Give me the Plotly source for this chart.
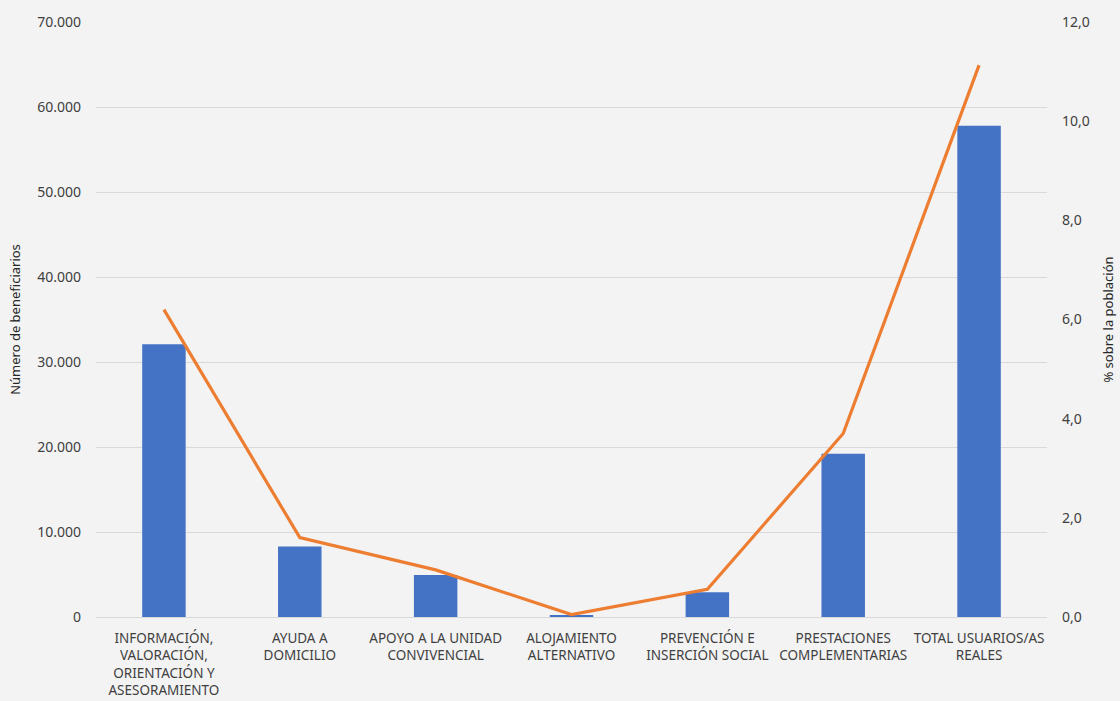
import plotly.graph_objects as go

categories = [
    "INFORMACIÓN,<br>VALORACIÓN,<br>ORIENTACIÓN Y<br>ASESORAMIENTO",
    "AYUDA A<br>DOMICILIO",
    "APOYO A LA UNIDAD<br>CONVIVENCIAL",
    "ALOJAMIENTO<br>ALTERNATIVO",
    "PREVENCIÓN E<br>INSERCIÓN SOCIAL",
    "PRESTACIONES<br>COMPLEMENTARIAS",
    "TOTAL USUARIOS/AS<br>REALES",
]
beneficiarios = [32100, 8300, 4950, 250, 2900, 19200, 57800]
porcentaje = [6.2, 1.6, 0.95, 0.05, 0.56, 3.7, 11.13]

left_ticks = [0, 10000, 20000, 30000, 40000, 50000, 60000, 70000]
right_ticks = [0, 2, 4, 6, 8, 10, 12]

FONT = "Noto Sans"
TEXT = "#404040"

fig = go.Figure()
fig.add_trace(go.Bar(
    x=categories, y=beneficiarios, name="Número de beneficiarios",
    marker=dict(color="#4472c4", line=dict(width=0)),
    width=0.32, yaxis="y",
))
fig.add_trace(go.Scatter(
    x=categories, y=porcentaje, name="% sobre la población",
    mode="lines", line=dict(color="#ed7d31", width=3.2),
    yaxis="y2",
))

fig.update_layout(
    width=1120, height=701,
    margin=dict(l=96, r=73, t=22, b=84),
    paper_bgcolor="#f3f3f3", plot_bgcolor="#f3f3f3",
    separators=",.",
    showlegend=False,
    font=dict(family=FONT, size=13, color=TEXT),
    xaxis=dict(
        tickfont=dict(family=FONT, size=13.5, color=TEXT),
        showgrid=False, showline=False, ticks="",
        tickangle=0, ticklabelstandoff=11, automargin=False,
    ),
    yaxis=dict(
        range=[0, 70000], tickvals=left_ticks, tickformat=",.0f",
        showgrid=True, gridcolor="#d9d9d9", gridwidth=1,
        zeroline=True, zerolinecolor="#d9d9d9", zerolinewidth=1,
        tickfont=dict(family=FONT, size=14, color=TEXT),
        ticks="", ticklabelstandoff=14, automargin=False,
        title=dict(text="Número de beneficiarios", standoff=13,
                   font=dict(family="Liberation Sans Narrow, " + FONT, size=13, color="#262626")),
    ),
    yaxis2=dict(
        range=[0, 12], tickvals=right_ticks, tickformat=".1f",
        overlaying="y", side="right", showgrid=False, zeroline=False,
        tickfont=dict(family=FONT, size=14, color=TEXT),
        ticks="", ticklabelstandoff=14, automargin=False,
        title=dict(text="% sobre la población", standoff=15,
                   font=dict(family="Liberation Sans Narrow, " + FONT, size=13, color="#262626")),
    ),
)

fig.write_html("out.html")
